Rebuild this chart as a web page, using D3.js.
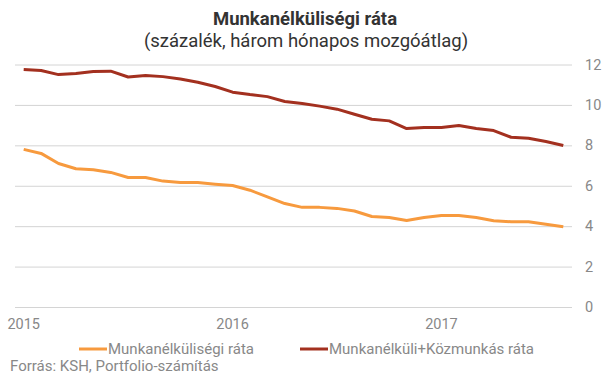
<!DOCTYPE html>
<html>
<head>
<meta charset="utf-8">
<script src="https://cdn.jsdelivr.net/npm/d3@7"></script>
<style>
  body { margin: 0; background: #fff; }
  svg { display: block; font-family: Roboto, sans-serif; }
</style>
</head>
<body>
<svg id="chart" width="605" height="378"></svg>
<script>
// havi adatok, 2015 jan - 2017 aug
var months = d3.range(32).map(function(i) { return new Date(2015, i, 1); });

var munkanelkuli = [7.80, 7.60, 7.10, 6.84, 6.79, 6.66, 6.41, 6.41, 6.23, 6.16, 6.16,
  6.08, 6.01, 5.78, 5.45, 5.12, 4.93, 4.93, 4.88, 4.75, 4.48, 4.43,
  4.28, 4.43, 4.53, 4.53, 4.43, 4.27, 4.22, 4.22, 4.09, 3.97];

var kozmunkas = [11.75, 11.70, 11.50, 11.55, 11.65, 11.67, 11.38, 11.45, 11.40, 11.28, 11.12,
  10.91, 10.63, 10.51, 10.41, 10.17, 10.07, 9.94, 9.79, 9.54, 9.29, 9.21,
  8.83, 8.88, 8.88, 8.98, 8.83, 8.73, 8.40, 8.35, 8.19, 7.99];

var yTicks = [0, 2, 4, 6, 8, 10, 12];
var yearLabels = ['2015', '2016', '2017'];

var series = [
  { name: 'Munkanélküliségi ráta', values: munkanelkuli, color: '#f79a3e' },
  { name: 'Munkanélküli+Közmunkás ráta', values: kozmunkas, color: '#a3301f' }
];

var svg = d3.select('#chart');
var plotLeft = 15, plotRight = 572, plotTop = 64.5, plotBottom = 307;

var x = d3.scaleBand().domain(d3.range(months.length)).range([plotLeft, plotRight]);
var y = d3.scaleLinear().domain([0, 12]).range([plotBottom, plotTop]);

function cx(i) { return x(i) + x.bandwidth() / 2; }

// cim
svg.append('text')
  .attr('x', 305).attr('y', 25)
  .attr('text-anchor', 'middle')
  .attr('font-size', 18.5).attr('font-weight', 'bold')
  .attr('fill', '#333')
  .text('Munkanélküliségi ráta');

svg.append('text')
  .attr('x', 306).attr('y', 47)
  .attr('text-anchor', 'middle')
  .attr('font-size', 18.5)
  .attr('fill', '#333')
  .text('(százalék, három hónapos mozgóátlag)');

// racsvonalak + y tengely jobbra
var yAxis = d3.axisRight(y).tickValues(yTicks).tickSize(plotRight - plotLeft).tickPadding(13);
var gy = svg.append('g')
  .attr('transform', 'translate(' + plotLeft + ',0)')
  .call(yAxis);
gy.select('.domain').remove();
gy.selectAll('.tick line').attr('stroke', '#d4d4d4').attr('stroke-width', 1);
gy.selectAll('.tick text')
  .attr('font-size', 14.5).attr('fill', '#888')
  .attr('font-family', 'Roboto, sans-serif');

// x tengely: evek januarja
var xAxis = d3.axisBottom(x)
  .tickValues([0, 12, 24])
  .tickSize(0).tickPadding(12)
  .tickFormat(function(d, i) { return yearLabels[i]; });
var gx = svg.append('g')
  .attr('transform', 'translate(0,' + plotBottom + ')')
  .call(xAxis);
gx.select('.domain').remove();
gx.selectAll('.tick text')
  .attr('font-size', 14.5).attr('fill', '#888')
  .attr('font-family', 'Roboto, sans-serif');

// vonalak
var line = d3.line()
  .x(function(d, i) { return cx(i); })
  .y(function(d) { return y(d); });

svg.selectAll('path.series')
  .data(series)
  .enter().append('path')
  .classed('series', true)
  .attr('d', function(d) { return line(d.values); })
  .attr('fill', 'none')
  .attr('stroke', function(d) { return d.color; })
  .attr('stroke-width', 3)
  .attr('stroke-linejoin', 'round');

// jelmagyarazat
var legendX = [79, 300];
var lg = svg.selectAll('g.legend')
  .data(series)
  .enter().append('g')
  .classed('legend', true)
  .attr('transform', function(d, i) { return 'translate(' + legendX[i] + ',349)'; });

lg.append('line')
  .attr('x1', 0).attr('x2', 28)
  .attr('stroke', function(d) { return d.color; })
  .attr('stroke-width', 3);

lg.append('text')
  .attr('x', 29).attr('y', 5)
  .attr('font-size', 15).attr('fill', '#888')
  .text(function(d) { return d.name; });

svg.append('text')
  .attr('x', 10).attr('y', 371)
  .attr('font-size', 15).attr('fill', '#888')
  .text('Forrás: KSH, Portfolio-számítás');
</script>
</body>
</html>
